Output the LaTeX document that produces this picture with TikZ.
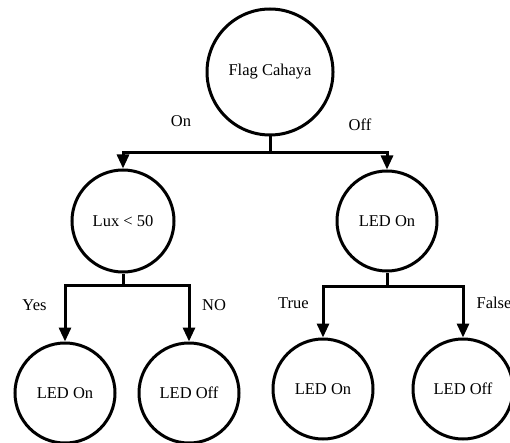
\documentclass[tikz,border=0pt]{standalone}
\usepackage{fontspec}
\setmainfont{Liberation Serif}
\usetikzlibrary{arrows.meta}
\begin{document}
\begin{tikzpicture}[x=1pt,y=-1pt,
  state/.style={circle,draw,line width=3pt,inner sep=0pt,font=\fontsize{16.5}{18}\selectfont},
  lbl/.style={inner sep=0pt,font=\fontsize{16.5}{18}\selectfont},
  conn/.style={line width=3pt},
  arr/.style={line width=3pt,-{Triangle[length=14pt,width=12pt]}}]
\useasboundingbox (0,0) rectangle (510,443);
\node[state,minimum size=126pt] (root) at (270,72) {Flag Cahaya};
\node[state,minimum size=102pt] (lux) at (123,221) {Lux {\textless} 50};
\node[state,minimum size=100pt] (led1) at (387,221) {LED On};
\node[state,minimum size=100pt] (b1) at (65,393) {LED On};
\node[state,minimum size=100pt] (b2) at (189,393) {\raisebox{-5pt}{LED Off}};
\node[state,minimum size=100pt] (b3) at (323,389) {LED On};
\node[state,minimum size=100pt] (b4) at (463,389) {LED Off};
\coordinate (j1) at (270,153);
\coordinate (j2) at (123,285);
\coordinate (j3) at (387,286);
\draw[conn] (root.south) -- (j1);
\draw[arr] (j1) -| (lux.north);
\draw[arr] (j1) -| (led1.north);
\draw[conn] (lux.south) -- (j2);
\draw[arr] (j2) -| (b1.north);
\draw[arr] (j2) -| (b2.north);
\draw[conn] (led1.south) -- (j3);
\draw[arr] (j3) -| (b3.north);
\draw[arr] (j3) -| (b4.north);
\node[lbl] (lon) at (181,121) {On};
\node[lbl] (loff) at (360,125) {Off};
\node[lbl] (lyes) at (34.5,305) {Yes};
\node[lbl] (lno) at (214,305) {NO};
\node[lbl] (ltrue) at (293.5,303) {True};
\node[lbl] (lfalse) at (494,303) {False};
\end{tikzpicture}
\end{document}
